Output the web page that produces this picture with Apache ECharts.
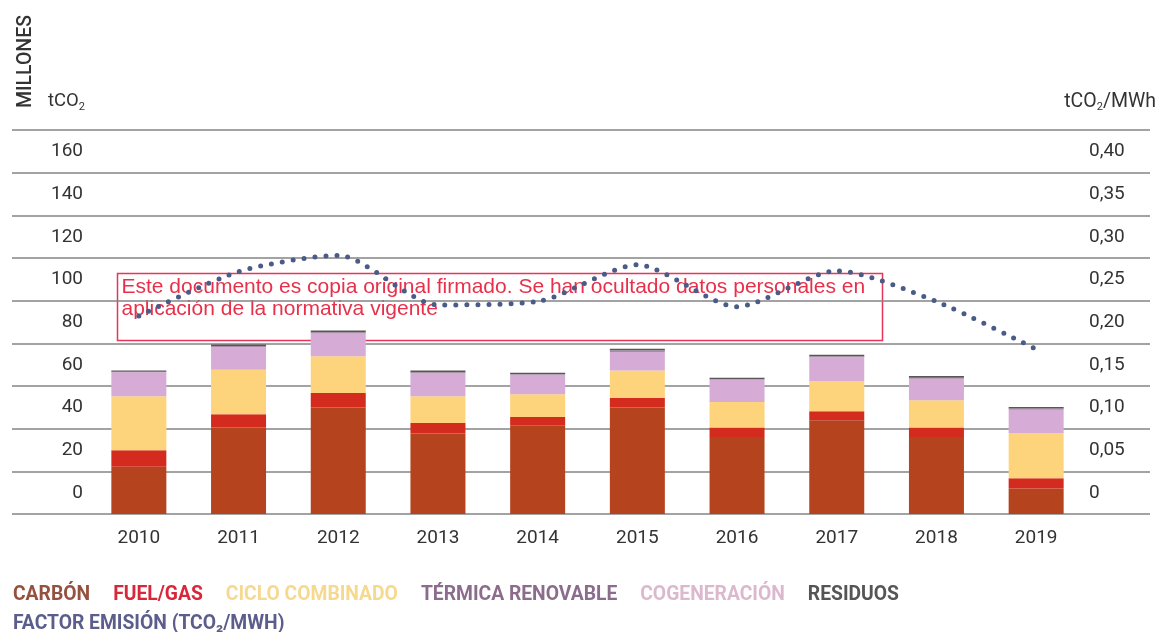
<!DOCTYPE html>
<html>
<head>
<meta charset="utf-8">
<title>Emisiones</title>
<script src="https://cdn.jsdelivr.net/npm/echarts@6/dist/echarts.min.js"></script>
<style>
  html, body { margin: 0; padding: 0; background: #fff; }
  #chart { width: 1158px; height: 632px; }
</style>
</head>
<body>
<div id="chart"></div>
<script>
// datos (millones tCO2 y tCO2/MWh)
const years = ["2010", "2011", "2012", "2013", "2014", "2015", "2016", "2017", "2018", "2019"];
const carbon = [22.1, 40.5, 49.9, 37.7, 41.6, 49.9, 36.1, 43.9, 36.1, 12.0];
const fuelGas = [7.8, 6.2, 6.8, 5.0, 3.9, 4.5, 4.4, 4.3, 4.4, 4.7];
const cicloCombinado = [25.3, 20.9, 17.2, 12.5, 10.6, 12.9, 12.0, 14.0, 12.8, 21.3];
const cogeneracion = [11.3, 10.6, 10.7, 10.9, 9.2, 8.6, 10.5, 11.3, 10.1, 10.9];
const termicaRenovable = [0.2, 0.5, 0.6, 0.4, 0.2, 0.8, 0.2, 0.4, 0.5, 0.5];
const residuos = [0.6, 0.8, 0.8, 0.8, 0.7, 0.8, 0.7, 0.8, 0.8, 0.8];
const factorEmision = [0.232, 0.284, 0.303, 0.245, 0.249, 0.292, 0.243, 0.285, 0.249, 0.193];

const leftTicks = { min: 0, max: 180, interval: 20 };
const rightTicks = { min: 0, max: 0.45, interval: 0.05 };

const FONT = "Roboto, 'DejaVu Sans', sans-serif";
const TOP = 130;
const BOTTOM = 118;

const mychart = echarts.init(document.getElementById("chart"));

function barSeries(name, data, color) {
  return {
    name: name,
    type: "bar",
    stack: "total",
    xAxisIndex: 1,
    yAxisIndex: 2,
    barWidth: 55,
    itemStyle: { color: color },
    data: data
  };
}

// las etiquetas van centradas en la franja, no sobre la linea
const bandLabel = {
  color: "#333",
  fontSize: 19,
  fontFamily: "Roboto",
  verticalAlign: "bottom",
  lineHeight: 42,
  showMinLabel: true,
  hideOverlap: false
};

mychart.setOption({
  animation: false,
  textStyle: { fontFamily: FONT },
  grid: [
    { left: 12, right: 8, top: TOP, bottom: BOTTOM },
    { left: 89, right: 72, top: TOP, bottom: BOTTOM }
  ],
  legend: [
    {
      left: 3,
      top: 581,
      icon: "none",
      itemWidth: 0,
      itemGap: 18,
      selectedMode: false,
      textStyle: { fontFamily: FONT, fontSize: 19.3, fontWeight: "bold" },
      data: [
        { name: "CARBÓN", textStyle: { color: "#94513f" } },
        { name: "FUEL/GAS", textStyle: { color: "#d8263a" } },
        { name: "CICLO COMBINADO", textStyle: { color: "#f6d98f" } },
        { name: "TÉRMICA RENOVABLE", textStyle: { color: "#8c6c8c" } },
        { name: "COGENERACIÓN", textStyle: { color: "#dcb8cf" } },
        { name: "RESIDUOS", textStyle: { color: "#555555" } }
      ]
    },
    {
      left: 3,
      top: 610,
      icon: "none",
      itemWidth: 0,
      selectedMode: false,
      textStyle: { fontFamily: FONT, fontSize: 19.3, fontWeight: "bold" },
      data: [{ name: "FACTOR EMISIÓN (TCO₂/MWH)", textStyle: { color: "#5b5d8c" } }]
    }
  ],
  xAxis: [
    {
      type: "category",
      gridIndex: 0,
      data: years,
      show: false
    },
    {
      type: "category",
      gridIndex: 1,
      data: years,
      axisLine: { show: false },
      axisTick: { show: false },
      axisLabel: { color: "#333", fontSize: 19, margin: 15, fontFamily: "Roboto" }
    }
  ],
  yAxis: [
    {
      type: "value",
      gridIndex: 0,
      position: "left",
      min: leftTicks.min,
      max: leftTicks.max,
      interval: leftTicks.interval,
      axisLine: { show: false },
      axisTick: { show: false },
      splitLine: { lineStyle: { color: "#858585", width: 1.5 } },
      axisLabel: Object.assign({}, bandLabel, {
        margin: -71,
        align: "right",
        formatter: function (v) { return v >= leftTicks.max ? "" : String(v); }
      })
    },
    {
      type: "value",
      gridIndex: 0,
      position: "right",
      min: rightTicks.min,
      max: rightTicks.max,
      interval: rightTicks.interval,
      axisLine: { show: false },
      axisTick: { show: false },
      splitLine: { show: false },
      axisLabel: Object.assign({}, bandLabel, {
        margin: -61,
        align: "left",
        formatter: function (v) {
          if (v >= rightTicks.max - 0.001) return "";
          if (v === 0) return "0";
          return v.toFixed(2).replace(".", ",");
        }
      })
    },
    {
      type: "value",
      gridIndex: 1,
      min: leftTicks.min,
      max: leftTicks.max,
      show: false,
      splitLine: { show: false }
    },
    {
      type: "value",
      gridIndex: 1,
      min: rightTicks.min,
      max: rightTicks.max,
      show: false,
      splitLine: { show: false }
    }
  ],
  graphic: [
    {
      type: "text",
      left: 16,
      top: 15,
      rotation: Math.PI / 2,
      style: {
        text: "MILLONES",
        font: "500 19.5px Roboto",
        fill: "#333"
      }
    },
    {
      type: "text",
      left: 48,
      top: 92,
      style: {
        text: "tCO{sub|2}",
        font: "18.5px Roboto",
        fill: "#333",
        rich: { sub: { fontSize: 11, fontFamily: "Roboto", padding: [11, 0, 0, 0] } }
      }
    },
    {
      type: "text",
      right: 2,
      top: 92,
      style: {
        text: "tCO{sub|2}/MWh",
        font: "19.5px Roboto",
        fill: "#333",
        rich: { sub: { fontSize: 11, fontFamily: "Roboto", padding: [11, 0, 0, 0] } }
      }
    },
    {
      type: "group",
      left: 115,
      top: 271,
      z: 100,
      children: [
        {
          type: "rect",
          shape: { x: 0, y: 0, width: 765, height: 67 },
          style: { fill: "none", stroke: "#e8365a", lineWidth: 1.5 }
        },
        {
          type: "text",
          x: 4,
          y: 3,
          style: {
            text: "Este documento es copia original firmado. Se han ocultado datos personales en\naplicación de la normativa vigente",
            font: "21px 'Liberation Sans', Arial, sans-serif",
            lineHeight: 22,
            fill: "#e8304a"
          }
        }
      ]
    }
  ],
  series: [
    barSeries("CARBÓN", carbon, "#b5441e"),
    barSeries("FUEL/GAS", fuelGas, "#d42b1f"),
    barSeries("CICLO COMBINADO", cicloCombinado, "#fdd47c"),
    barSeries("COGENERACIÓN", cogeneracion, "#d6acd6"),
    barSeries("TÉRMICA RENOVABLE", termicaRenovable, "#a78aa4"),
    barSeries("RESIDUOS", residuos, "#5a5559"),
    {
      name: "FACTOR EMISIÓN (TCO₂/MWH)",
      type: "line",
      xAxisIndex: 1,
      yAxisIndex: 3,
      smooth: 0.25,
      symbol: "none",
      z: 5,
      itemStyle: { color: "#4a5b88" },
      lineStyle: { color: "#4a5b88", width: 5, type: [0, 11], cap: "round" },
      data: factorEmision
    }
  ]
});
</script>
</body>
</html>
